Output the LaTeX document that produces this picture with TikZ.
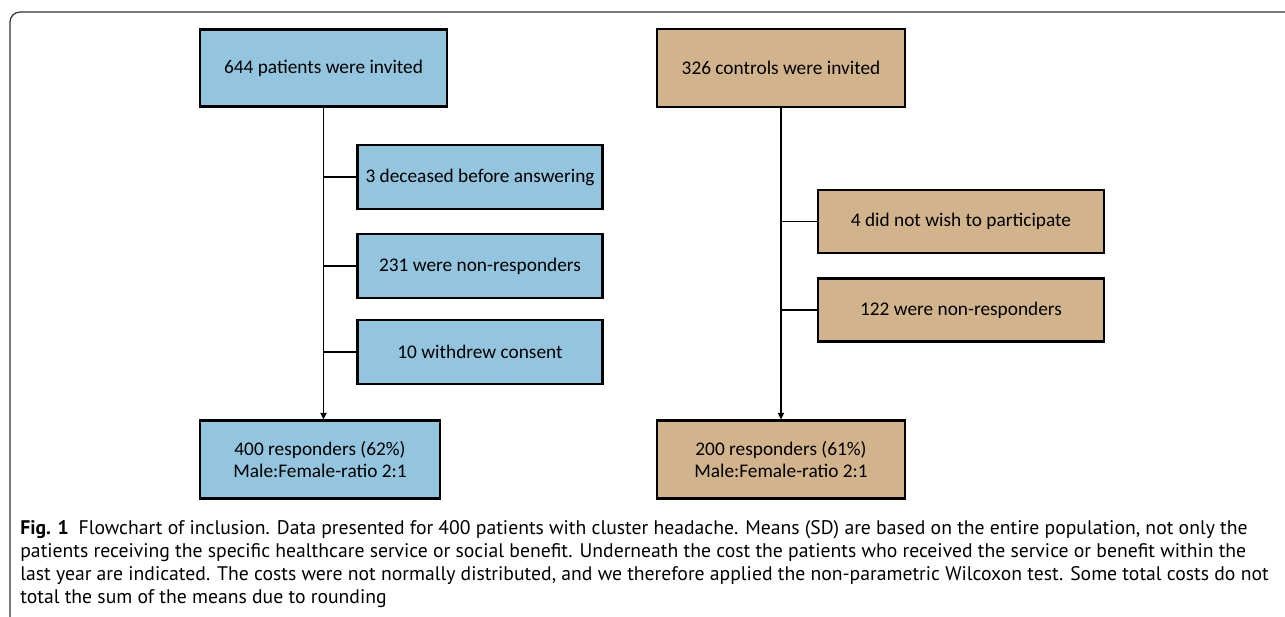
\documentclass[tikz,border=0pt]{standalone}
\usepackage{fontspec}
\setmainfont{Carlito}
\newfontfamily\capfont{PT Sans}
\usetikzlibrary{calc,arrows.meta}

\begin{document}
\begin{tikzpicture}[x=0.02cm, y=-0.02cm, font=\fontsize{11}{12}\selectfont]

% --- fill colors ---
\definecolor{cPat}{HTML}{93C5DE}
\definecolor{cCtl}{HTML}{D2B48C}

% --- styles ---
\tikzset{
  flowbox/.style={draw=black, line width=1.2pt, align=center, inner sep=2pt},
  patbox/.style={flowbox, fill=cPat},
  ctlbox/.style={flowbox, fill=cCtl},
  link/.style={black, line width=1.1pt},
  feed/.style={link, -{Triangle[length=1.3mm, width=1.2mm]}}
}

\useasboundingbox (0,0) rectangle (1285,617);

% --- frame ---
\draw[black!80, line width=0.7pt, rounded corners=10*0.02cm]
  (10,617) -- (10,12) -- (1285,12);

% --- patients column ---
\node[patbox, minimum width=4.94cm, minimum height=1.54cm] (pInv)
  at (323.5,68) {644 patients were invited};
\foreach \txt/\yy [count=\pi from 1] in
  {3 deceased before answering/177,
   231 were non-responders/266,
   10 withdrew consent/352}{%
  \node[patbox, minimum width=4.9cm, minimum height=1.28cm] (pEx\pi)
    at (480,\yy) {\txt};
  \draw[link] (pEx\pi.west) -- (pEx\pi.west -| pInv.south);
}
\node[patbox, minimum width=4.8cm, minimum height=1.56cm] (pResp)
  at (320,459.5) {400 responders (62\%)\\Male:Female-ratio 2:1};
\draw[feed] (pInv.south) -- (pInv.south |- pResp.north);

% --- controls column ---
\node[ctlbox, minimum width=4.96cm, minimum height=1.56cm] (cInv)
  at (781,68) {326 controls were invited};
\foreach \txt/\yy [count=\ci from 1] in
  {4 did not wish to participate/221.5,
   122 were non-responders/310}{%
  \node[ctlbox, minimum width=5.72cm, minimum height=1.26cm] (cEx\ci)
    at (961,\yy) {\txt};
  \draw[link] (cEx\ci.west) -- (cEx\ci.west -| cInv.south);
}
\node[ctlbox, minimum width=4.96cm, minimum height=1.56cm] (cResp)
  at (781,459.5) {200 responders (61\%)\\Male:Female-ratio 2:1};
\draw[feed] (cInv.south) -- (cInv.south |- cResp.north);

% --- caption ---
\node[anchor=north west, align=left, inner sep=0pt,
      font=\capfont\fontsize{11.2}{13.1}\selectfont] (capt) at (20,520)
  {\textbf{Fig. 1}\enspace Flowchart of inclusion. Data presented for 400 patients with cluster headache. Means (SD) are based on the entire population, not only the\\
   patients receiving the specific healthcare service or social benefit. Underneath the cost the patients who received the service or benefit within the\\
   last year are indicated. The costs were not normally distributed, and we therefore applied the non-parametric Wilcoxon test. Some total costs do not\\
   total the sum of the means due to rounding};

\end{tikzpicture}
\end{document}
